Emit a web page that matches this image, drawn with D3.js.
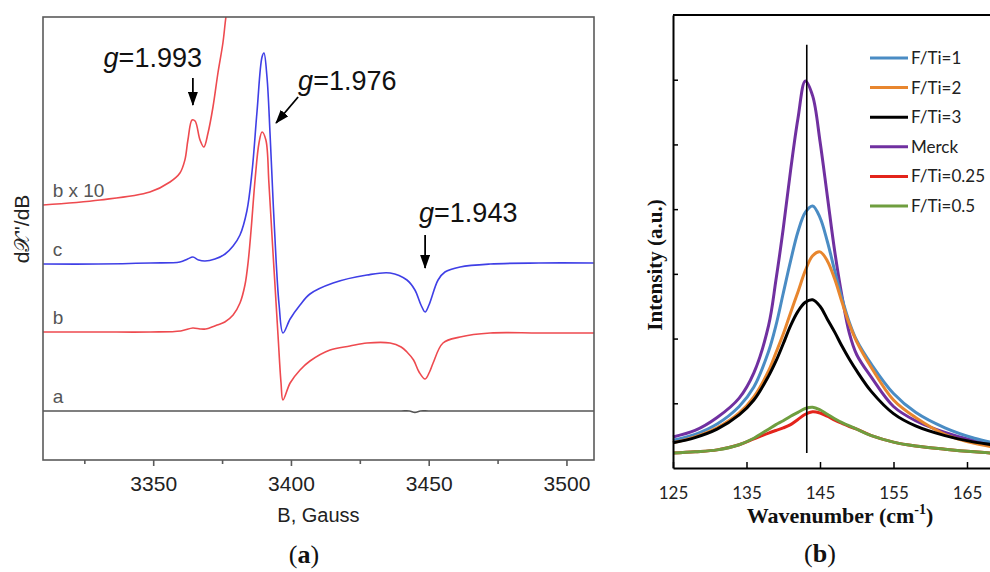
<!DOCTYPE html>
<html>
<head>
<meta charset="utf-8">
<script src="https://cdn.jsdelivr.net/npm/d3@7"></script>
<style>
  body { margin: 0; background: #fff; }
  svg { display: block; }
</style>
</head>
<body>
<div id="chart"></div>
<script>
// ---------- (a) EPR spectra: field in Gauss, signal in arbitrary units ----------
var fieldA = [3310, 3360, 3400, 3430, 3440, 3443, 3445, 3447, 3450, 3460, 3490, 3510];
var signalA = [0, 0, 0, 0, 0, 0, -0.7, 0, 0, 0, 0, 0];

var fieldB = [3310, 3330, 3349, 3360, 3364.4, 3367, 3369, 3373.2, 3376, 3379, 3381.5, 3383.3, 3384.5, 3385.5, 3387,
  3388.4, 3389.5, 3390.9, 3392, 3393.1, 3394.2, 3395.3, 3396.4, 3397.1, 3399.7, 3403.3, 3406.9, 3414.2, 3421.4,
  3427.6, 3436, 3440, 3442.1, 3444.5, 3446.5, 3448.7, 3450.3, 3451.6, 3455.2, 3461.4, 3472.3, 3490, 3510];
var signalB = [39.5, 39.5, 39.5, 40, 41.5, 41, 41, 43, 44.5, 48, 54, 63, 75, 90, 116,
  134, 139.5, 135.5, 114, 88, 63, 38, 14, 5.5, 14, 20.5, 25, 30.5, 32.5,
  34, 34, 32, 29.5, 25.5, 19.5, 16, 19.5, 24, 34, 37, 39, 39, 39];

var fieldC = [3310, 3330, 3349, 3359.7, 3362.5, 3364.4, 3366.5, 3368.8, 3372.4, 3376.1, 3379, 3381.5, 3384, 3385.9,
  3387.7, 3389.5, 3390.2, 3391.3, 3392.4, 3393.5, 3394.6, 3395.7, 3397.1, 3399.7, 3403.3, 3406.9, 3415.3, 3427.6,
  3436, 3442.1, 3445, 3447.2, 3448.7, 3450.1, 3453.4, 3455.9, 3461.4, 3472.3, 3490, 3510];
var signalC = [73.5, 73.5, 74, 74.5, 76, 77, 75.5, 75, 76, 78.5, 82.5, 88, 100, 120,
  150, 177, 179, 167, 139, 105.5, 75.5, 53, 39, 46, 53, 58.5, 64, 68,
  69, 65.5, 60.5, 53, 49.5, 53, 65.5, 69.5, 72, 73.5, 74, 74];

var fieldB10 = [3310, 3330.7, 3348.8, 3356.1, 3359.7, 3361.5, 3362.6, 3364.1, 3365.2, 3367, 3368.4, 3369.9,
  3371.7, 3373.5, 3375.3, 3376.4, 3377.9];
var signalB10 = [103, 105.5, 109.5, 114.5, 119, 125.5, 135.5, 145.5, 145, 135.5, 132, 139,
  152, 169, 184, 197, 210];

var ticksMajorA = [3350, 3400, 3450, 3500];
var ticksMinorA = [3325, 3375, 3425, 3475];

// ---------- (b) Raman Eg band ----------
var wavenumber = [125, 128, 131, 134, 136, 138, 139, 140, 141, 142, 143, 144, 145, 146, 147, 148, 149, 150,
  152, 155, 158, 162, 166, 170];
var fti1   = [0.43, 0.52, 0.68, 0.95, 1.25, 1.8, 2.2, 2.7, 3.2, 3.65, 3.95, 4.05, 3.87, 3.5, 3.05, 2.62, 2.25, 1.97,
  1.6, 1.15, 0.86, 0.62, 0.46, 0.36];
var fti2   = [0.39, 0.48, 0.62, 0.85, 1.1, 1.5, 1.78, 2.07, 2.4, 2.72, 3.05, 3.28, 3.34, 3.2, 2.92, 2.56, 2.22, 1.95,
  1.55, 1.05, 0.78, 0.52, 0.38, 0.3];
var fti3   = [0.39, 0.47, 0.6, 0.82, 1.05, 1.42, 1.65, 1.92, 2.2, 2.42, 2.56, 2.6, 2.5, 2.3, 2.1, 1.88, 1.68, 1.5,
  1.18, 0.84, 0.65, 0.5, 0.4, 0.34];
var merck  = [0.48, 0.58, 0.78, 1.08, 1.47, 2.2, 2.9, 3.7, 4.6, 5.4, 5.98, 5.75, 5.05, 4.2, 3.35, 2.65, 2.08, 1.75,
  1.4, 0.95, 0.73, 0.55, 0.42, 0.33];
var fti025 = [0.23, 0.25, 0.28, 0.36, 0.45, 0.54, 0.58, 0.62, 0.67, 0.75, 0.83, 0.87, 0.85, 0.8, 0.74, 0.69, 0.64, 0.6,
  0.5, 0.4, 0.34, 0.29, 0.25, 0.22];
var fti05  = [0.23, 0.25, 0.28, 0.36, 0.46, 0.6, 0.67, 0.73, 0.8, 0.86, 0.92, 0.94, 0.9, 0.83, 0.76, 0.7, 0.65, 0.6,
  0.5, 0.4, 0.34, 0.29, 0.25, 0.22];
var legendNames = ["F/Ti=1", "F/Ti=2", "F/Ti=3", "Merck", "F/Ti=0.25", "F/Ti=0.5"];
var ticksB = [125, 135, 145, 155, 165];
var peakLine = {x: 143.2, y0: 0.23, y1: 6.54};

var W = 990, H = 572;
var svg = d3.select("#chart").append("svg").attr("width", W).attr("height", H);
svg.append("rect").attr("width", W).attr("height", H).attr("fill", "#fff");

var defs = svg.append("defs");
defs.append("marker").attr("id", "arrow")
  .attr("markerUnits", "userSpaceOnUse")
  .attr("markerWidth", 14).attr("markerHeight", 10)
  .attr("refX", 13).attr("refY", 5).attr("orient", "auto")
  .append("path").attr("d", "M0,0 L14,5 L0,10 Z").attr("fill", "#000");

// ================= panel (a) =================
var ax = {l: 43, r: 594, t: 17, b: 460};
var xA = d3.scaleLinear().domain([3310, 3510]).range([ax.l, ax.r]);
var yA = d3.scaleLinear().domain([-24.5, 197]).range([ax.b, ax.t]);
var fontA = "'Liberation Sans', Arial, sans-serif";

defs.append("clipPath").attr("id", "clipA")
  .append("rect").attr("x", ax.l).attr("y", ax.t).attr("width", ax.r - ax.l).attr("height", ax.b - ax.t);

var gA = svg.append("g");

var seriesA = [
  {label: "a", field: fieldA, signal: signalA, color: "#555555"},
  {label: "b", field: fieldB, signal: signalB, color: "#ee4a4f"},
  {label: "c", field: fieldC, signal: signalC, color: "#3f3fe6"},
  {label: "b x 10", field: fieldB10, signal: signalB10, color: "#ee4a4f"}
];

var lineA = d3.line().curve(d3.curveCatmullRom.alpha(0.5))
  .x(function(d){ return xA(d[0]); })
  .y(function(d){ return yA(d[1]); });

var plotA = gA.append("g").attr("clip-path", "url(#clipA)");
seriesA.forEach(function(s){
  var pts = s.field.map(function(f, i){ return [f, s.signal[i]]; });
  plotA.append("path").attr("d", lineA(pts))
    .attr("fill", "none").attr("stroke", s.color).attr("stroke-width", 1.6);
  gA.append("text").attr("x", xA(3313.5)).attr("y", yA(s.signal[0]) - 8)
    .attr("font-family", fontA).attr("font-size", 19).attr("fill", "#555")
    .text(s.label);
});

// frame
gA.append("rect").attr("x", ax.l).attr("y", ax.t).attr("width", ax.r - ax.l).attr("height", ax.b - ax.t)
  .attr("fill", "none").attr("stroke", "#5a5a5a").attr("stroke-width", 1.6);

var axisA = gA.append("g").attr("transform", "translate(0," + ax.b + ")")
  .call(d3.axisBottom(xA).tickValues(ticksMajorA).tickSize(6).tickSizeOuter(0).tickPadding(10)
    .tickFormat(d3.format("d")));
axisA.select(".domain").remove();
axisA.selectAll("line").attr("stroke", "#5a5a5a").attr("stroke-width", 1.6);
axisA.selectAll("text").attr("font-family", fontA).attr("font-size", 21).attr("fill", "#222");
var minorA = gA.append("g").attr("transform", "translate(0," + ax.b + ")")
  .call(d3.axisBottom(xA).tickValues(ticksMinorA).tickSize(4).tickSizeOuter(0).tickFormat(""));
minorA.select(".domain").remove();
minorA.selectAll("line").attr("stroke", "#5a5a5a").attr("stroke-width", 1.6);

gA.append("text").attr("x", (ax.l + ax.r) / 2).attr("y", 522)
  .attr("text-anchor", "middle").attr("font-family", fontA).attr("font-size", 20).attr("fill", "#222")
  .text("B, Gauss");
gA.append("text").attr("transform", "translate(29,229) rotate(-90)")
  .attr("text-anchor", "middle").attr("font-family", fontA).attr("font-size", 21).attr("fill", "#222")
  .text("d\uD835\uDCB3\"/dB");

// g-factor annotations: text anchor (field, signal) and arrow from/to
var notes = [
  {t: "1.993", tx: 3367.7, ty: 172, anchor: "end", a0: [3364.4, 166.5], a1: [3364.4, 153]},
  {t: "1.976", tx: 3402.6, ty: 160.5, anchor: "start", a0: [3402.6, 157], a1: [3394.6, 144]},
  {t: "1.943", tx: 3446.5, ty: 94.5, anchor: "start", a0: [3448.7, 88], a1: [3448.7, 71.5]}
];
notes.forEach(function(n){
  var t = gA.append("text").attr("x", xA(n.tx)).attr("y", yA(n.ty))
    .attr("text-anchor", n.anchor).attr("font-family", fontA).attr("font-size", 27).attr("fill", "#111");
  t.append("tspan").attr("font-style", "italic").text("g");
  t.append("tspan").text("=" + n.t);
  gA.append("line").attr("x1", xA(n.a0[0])).attr("y1", yA(n.a0[1]))
    .attr("x2", xA(n.a1[0])).attr("y2", yA(n.a1[1]))
    .attr("stroke", "#000").attr("stroke-width", 1.8).attr("marker-end", "url(#arrow)");
});

svg.append("text").attr("x", 304).attr("y", 563).attr("text-anchor", "middle")
  .attr("font-family", "'Liberation Serif', 'Times New Roman', serif").attr("font-size", 26).attr("fill", "#111")
  .call(function(t){
    t.append("tspan").text("(");
    t.append("tspan").attr("font-weight", "bold").text("a");
    t.append("tspan").text(")");
  });

// ================= panel (b) =================
var bx = {l: 673, t: 15, b: 468};
var xB = d3.scaleLinear().domain([125, 170]).range([bx.l, bx.l + 45 * 7.35]);
var yB = d3.scaleLinear().domain([0, 7]).range([bx.b, bx.t]);
var fontB = "Lato, Calibri, 'Open Sans', sans-serif";
var serifB = "'Liberation Serif', 'Times New Roman', serif";

var gB = svg.append("g");

var seriesB = [
  {name: legendNames[3], values: merck, color: "#7030a0"},
  {name: legendNames[0], values: fti1, color: "#4a8cc4"},
  {name: legendNames[1], values: fti2, color: "#e8862e"},
  {name: legendNames[2], values: fti3, color: "#000000"},
  {name: legendNames[4], values: fti025, color: "#e3241b"},
  {name: legendNames[5], values: fti05, color: "#6f9e3f"}
];
var colorOf = {};
seriesB.forEach(function(s){ colorOf[s.name] = s.color; });

var lineB = d3.line().curve(d3.curveCatmullRom.alpha(0.5))
  .x(function(d, i){ return xB(wavenumber[i]); })
  .y(function(d){ return yB(d); });

seriesB.forEach(function(s){
  gB.append("path").attr("d", lineB(s.values))
    .attr("fill", "none").attr("stroke", s.color).attr("stroke-width", 3)
    .attr("stroke-linejoin", "round");
});

gB.append("line").attr("x1", xB(peakLine.x)).attr("x2", xB(peakLine.x))
  .attr("y1", yB(peakLine.y0)).attr("y2", yB(peakLine.y1))
  .attr("stroke", "#000").attr("stroke-width", 1.6);

// axes
var axB = gB.append("g").attr("transform", "translate(0," + bx.b + ")")
  .call(d3.axisBottom(xB).tickValues(ticksB).tickSize(-6).tickSizeOuter(0).tickPadding(19));
axB.select(".domain").attr("stroke", "#000").attr("stroke-width", 2);
axB.selectAll("line").attr("stroke", "#000").attr("stroke-width", 1.5);
axB.selectAll("text").attr("font-family", fontB).attr("font-size", 17).attr("fill", "#222");

var ayB = gB.append("g").attr("transform", "translate(" + bx.l + ",0)")
  .call(d3.axisLeft(yB).tickValues([1, 2, 3, 4, 5, 6]).tickSize(-5).tickSizeOuter(0).tickFormat(""));
ayB.select(".domain").attr("stroke", "#000").attr("stroke-width", 2);
ayB.selectAll("line").attr("stroke", "#000").attr("stroke-width", 1.5);

gB.append("line").attr("x1", bx.l).attr("x2", xB(170)).attr("y1", yB(7)).attr("y2", yB(7))
  .attr("stroke", "#000").attr("stroke-width", 2);

// legend
var leg = gB.append("g").attr("transform", "translate(870,58)");
legendNames.forEach(function(n, i){
  var row = leg.append("g").attr("transform", "translate(0," + (i * 29.6) + ")");
  row.append("line").attr("x1", 0).attr("x2", 38).attr("stroke", colorOf[n]).attr("stroke-width", 3);
  row.append("text").attr("x", 41).attr("dy", "0.35em")
    .attr("font-family", fontB).attr("font-size", 17).attr("fill", "#222").text(n);
});

gB.append("text").attr("transform", "translate(662,265) rotate(-90)")
  .attr("text-anchor", "middle").attr("font-family", serifB).attr("font-weight", "bold")
  .attr("font-size", 21).attr("fill", "#111").text("Intensity (a.u.)");

gB.append("text").attr("x", 840).attr("y", 523).attr("text-anchor", "middle")
  .attr("font-family", serifB).attr("font-weight", "bold").attr("font-size", 22).attr("fill", "#111")
  .call(function(t){
    t.append("tspan").text("Wavenumber (cm");
    t.append("tspan").attr("font-size", 14).attr("dy", -9).text("-1");
    t.append("tspan").attr("dy", 9).text(")");
  });

svg.append("text").attr("x", 820).attr("y", 562).attr("text-anchor", "middle")
  .attr("font-family", serifB).attr("font-size", 26).attr("fill", "#111")
  .call(function(t){
    t.append("tspan").text("(");
    t.append("tspan").attr("font-weight", "bold").text("b");
    t.append("tspan").text(")");
  });
</script>
</body>
</html>
